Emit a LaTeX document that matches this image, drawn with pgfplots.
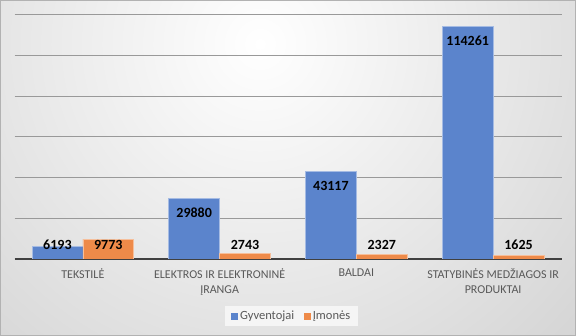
\documentclass[border=0pt]{standalone}
\usepackage{pgfplots}
\pgfplotsset{compat=1.18}
\usetikzlibrary{calc}
\usepackage{fontspec}
\setmainfont{Carlito}
\definecolor{cblue}{HTML}{5B84CC}
\definecolor{corange}{HTML}{EE8A49}
\definecolor{ctext}{HTML}{595959}
\pgfdeclarelayer{bg}
\pgfsetlayers{bg,main}
\begin{document}
\begin{tikzpicture}
\begin{axis}[
  name=ax, scale only axis,
  width=547pt, height=244.5pt,
  xmin=-0.5, xmax=3.5, ymin=0, ymax=120000,
  axis line style={draw=none},
  scaled y ticks=false,
  ytick={0,20000,...,120000}, yticklabels={},
  ymajorgrids, grid style={black!40, line width=0.6pt},
  extra y ticks={0}, extra y tick labels={},
  extra y tick style={grid style={black!75, line width=1.6pt}},
  major tick length=0pt,
  xtick={0,1,2,3},
  xticklabels={TEKSTILĖ, {ELEKTROS IR ELEKTRONINĖ\\ĮRANGA}, BALDAI, {STATYBINĖS MEDŽIAGOS IR\\PRODUKTAI}},
  xticklabel style={font=\fontsize{12}{15}\selectfont, text=ctext, align=center, yshift=-6pt},
  legend columns=2,
  legend style={at={(0.507,-0.233)}, anchor=center, draw=none, fill=black!4,
    font=\fontsize{12.5}{14}\selectfont, text=ctext, inner xsep=6pt, inner ysep=3pt,
    /tikz/every even column/.append style={column sep=8pt}},
]
\addplot[ybar, bar width=0.372, bar shift=-0.186, fill=cblue, draw=cblue!55!white, line width=0.6pt,
  legend image code/.code={\fill[cblue] (0pt,-3pt) rectangle (6pt,3pt);}]
  coordinates {(0,6193) (1,29880) (2,43117) (3,114261)};
\addlegendentry{Gyventojai}
\addplot[ybar, bar width=0.372, bar shift=0.186, fill=corange, draw=corange!55!white, line width=0.6pt,
  legend image code/.code={\fill[corange] (0pt,-3pt) rectangle (6pt,3pt);}]
  coordinates {(0,9773) (1,2743) (2,2327) (3,1625)};
\addlegendentry{Įmonės}
\addplot[draw=none, mark=none, forget plot, nodes near coords={\pgfplotspointmeta},
  point meta=explicit symbolic,
  nodes near coords style={font=\bfseries\fontsize{14}{14}\selectfont, anchor=center, text=black}]
  table[meta=v, x expr={\thisrow{x}-0.186}, y expr={max(\thisrow{v}-7400,6900)}] {
x v
0 6193
1 29880
2 43117
3 114261
};
\addplot[draw=none, mark=none, forget plot, nodes near coords={\pgfplotspointmeta},
  point meta=explicit symbolic,
  nodes near coords style={font=\bfseries\fontsize{14}{14}\selectfont, anchor=center, text=black}]
  table[meta=v, x expr={\thisrow{x}+0.186}, y expr={max(\thisrow{v}-7400,6900)}] {
x v
0 9773
1 2743
2 2327
3 1625
};
\end{axis}
\path (ax.south west) ++(-14.5pt,-77pt) coordinate (bl);
\path (bl) ++(576pt,336pt) coordinate (tr);
\pgfresetboundingbox
\useasboundingbox (bl) rectangle (tr);
\begin{pgfonlayer}{bg}
\begin{scope}
\clip (bl) rectangle (tr);
\shade[inner color=white, outer color=black!30] ($(bl)+(260pt,292pt)$) circle (780pt);
\end{scope}
\draw[black!30, line width=1pt] ($(bl)+(0.5pt,0.5pt)$) rectangle ($(tr)-(0.5pt,0.5pt)$);
\end{pgfonlayer}
\end{tikzpicture}
\end{document}
